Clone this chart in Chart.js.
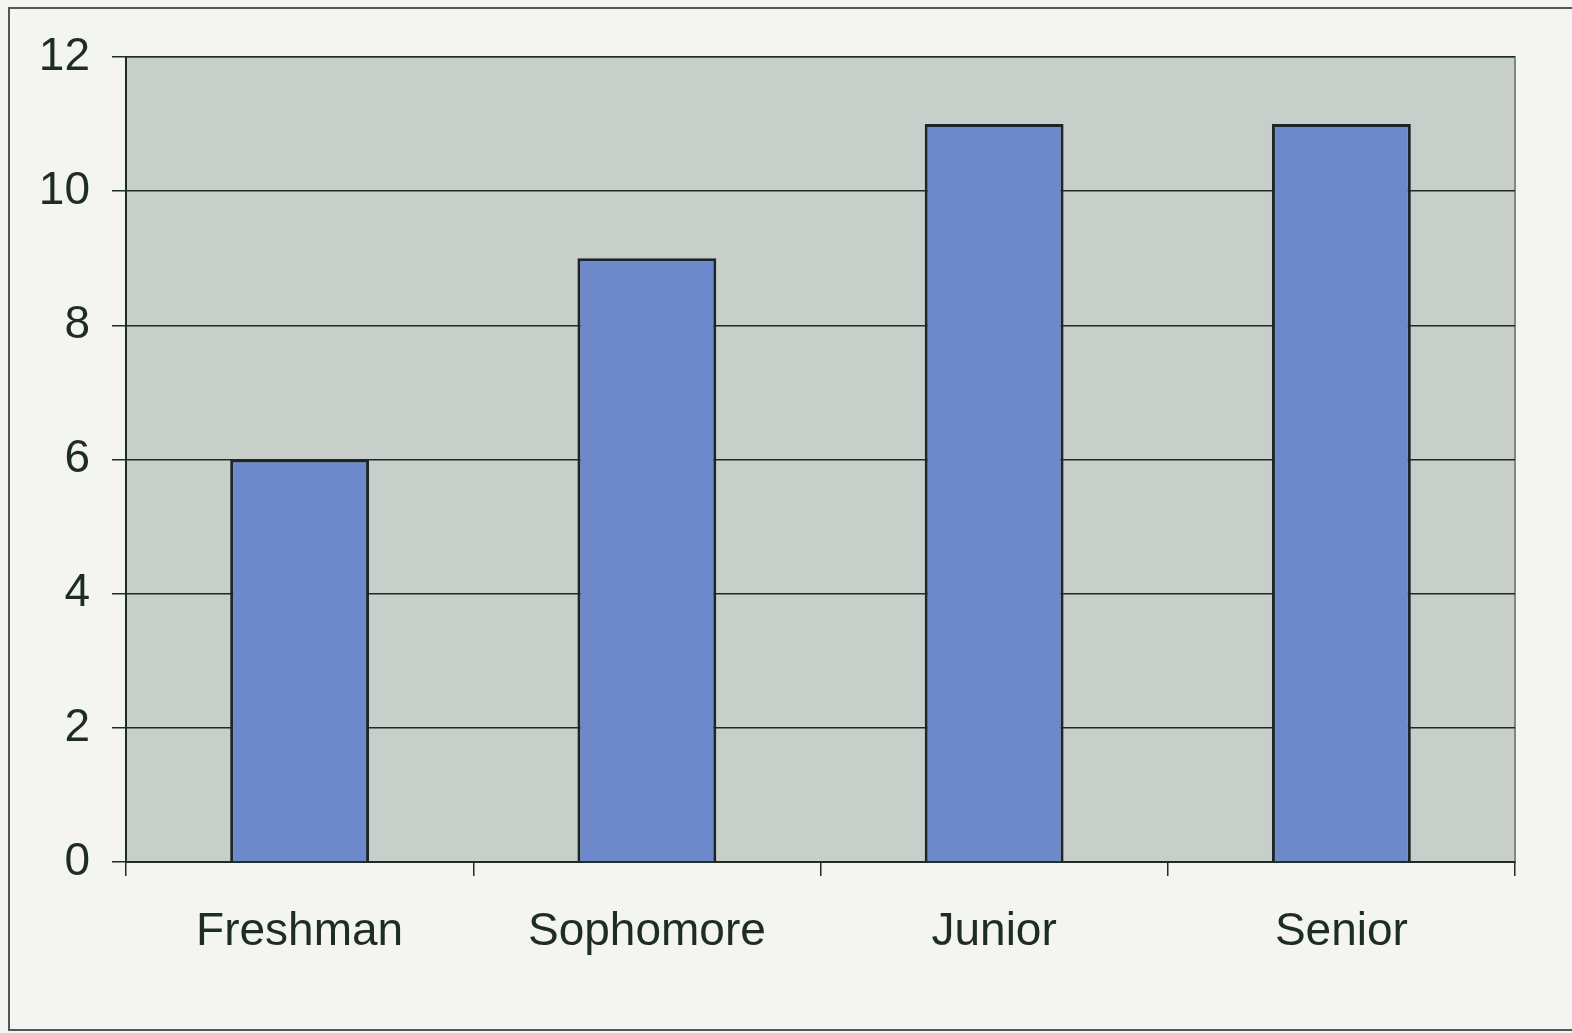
<!DOCTYPE html>
<html>
<head>
<meta charset="utf-8">
<script src="https://cdn.jsdelivr.net/npm/chart.js@4/dist/chart.umd.min.js"></script>
<style>
    html, body { margin: 0; padding: 0; background: #f4f5f3; }
    #wrap { width: 1572px; height: 1033px; position: relative; }
</style>
</head>
<body>
<div id="wrap"><canvas id="classChart" width="1572" height="1033"></canvas></div>
<script>
const classLevels = ["Freshman", "Sophomore", "Junior", "Senior"];
const studentCounts = [6, 9, 11, 11];
const yTicks = [0, 2, 4, 6, 8, 10, 12];

const inkColor = "#1e2d22";

// grey-green plot background plus the outer frame line (left, top, bottom)
const framePlugin = {
    id: "frame",
    beforeDraw(chart) {
        const { ctx, chartArea } = chart;
        ctx.save();
        ctx.fillStyle = "#c8cfca";
        ctx.fillRect(chartArea.left, chartArea.top, chartArea.right - chartArea.left, chartArea.bottom - chartArea.top);
        ctx.strokeStyle = "#7d8a80";
        ctx.lineWidth = 2;
        ctx.strokeRect(chartArea.left, chartArea.top, chartArea.right - chartArea.left, chartArea.bottom - chartArea.top);
        ctx.strokeStyle = "#4c5b50";
        ctx.lineWidth = 2;
        ctx.beginPath();
        ctx.moveTo(1572, 8);
        ctx.lineTo(9, 8);
        ctx.lineTo(9, 1030);
        ctx.lineTo(1572, 1030);
        ctx.stroke();
        ctx.restore();
    }
};

const ctx = document.getElementById("classChart").getContext("2d");

new Chart(ctx, {
    type: "bar",
    data: {
        labels: classLevels,
        datasets: [{
            data: studentCounts,
            backgroundColor: "#6e88cc",
            borderColor: "#1a2628",
            borderWidth: 3,
            barPercentage: 0.4,
            categoryPercentage: 1.0
        }]
    },
    options: {
        responsive: false,
        animation: false,
        events: [],
        layout: { padding: { left: 0, top: 57, right: 57, bottom: 0 } },
        plugins: {
            legend: { display: false },
            title: { display: false },
            tooltip: { enabled: false }
        },
        scales: {
            x: {
                offset: true,
                afterFit: (scale) => { scale.height = 171; },
                grid: {
                    offset: true,
                    drawOnChartArea: false,
                    drawTicks: true,
                    tickLength: 14,
                    color: inkColor,
                    lineWidth: 1.5
                },
                border: { display: true, color: inkColor, width: 2 },
                ticks: {
                    color: inkColor,
                    padding: 29,
                    font: { family: "'Liberation Sans', Arial, sans-serif", size: 46 }
                }
            },
            y: {
                min: 0,
                max: 12,
                afterFit: (scale) => { scale.width = 126; },
                afterBuildTicks: (scale) => { scale.ticks = yTicks.map(v => ({ value: v })); },
                grid: {
                    drawTicks: true,
                    tickLength: 14,
                    color: inkColor,
                    lineWidth: 1.5
                },
                border: { display: true, color: inkColor, width: 2 },
                ticks: {
                    color: inkColor,
                    padding: 22,
                    font: { family: "'Liberation Sans', Arial, sans-serif", size: 46 }
                }
            }
        }
    },
    plugins: [framePlugin]
});
</script>
</body>
</html>
